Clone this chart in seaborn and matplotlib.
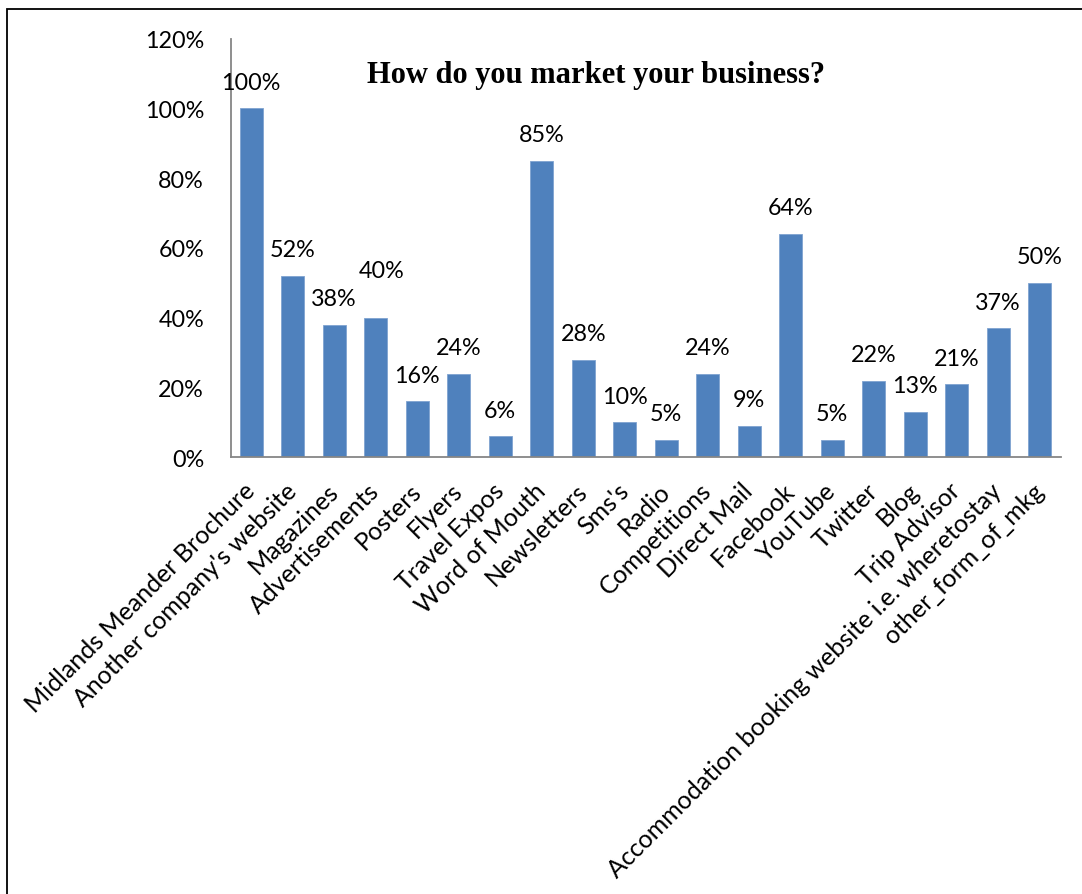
import matplotlib
matplotlib.use("Agg")
import matplotlib.pyplot as plt
from matplotlib.patches import Rectangle
import seaborn as sns
import pandas as pd

# Survey results: share of businesses using each marketing channel (%)
categories = [
    "Midlands Meander Brochure",
    "Another company's website",
    "Magazines",
    "Advertisements",
    "Posters",
    "Flyers",
    "Travel Expos",
    "Word of Mouth",
    "Newsletters",
    "Sms's",
    "Radio",
    "Competitions",
    "Direct Mail",
    "Facebook",
    "YouTube",
    "Twitter",
    "Blog",
    "Trip Advisor",
    "Accommodation booking website i.e. wheretostay",
    "other_form_of_mkg",
]
shares = [100, 52, 38, 40, 16, 24, 6, 85, 28, 10, 5, 24, 9, 64, 5, 22, 13, 21, 37, 50]
y_ticks = [0, 20, 40, 60, 80, 100, 120]
title = "How do you market your business?"

sns.set_theme(style="white")
plt.rcParams["font.family"] = ["Lato", "DejaVu Sans"]

W, H, DPI = 1082, 895, 100
NUM_FS = 16.8
CAT_FS = 18
fig = plt.figure(figsize=(W / DPI, H / DPI), dpi=DPI)
fig.patch.set_facecolor("white")

# plot area in pixel terms
left, bottom, width, height = 230.5, 458.3, 830, 418.8
ax = fig.add_axes([left / W, (H - bottom) / H, width / W, height / H])

df = pd.DataFrame({"category": categories, "share": shares})
sns.barplot(data=df, x="category", y="share", color="#4F81BD",
            saturation=1, width=0.566, ax=ax, edgecolor="#7FA3D0", linewidth=0.6)

ax.set_xlim(-0.5, len(categories) - 0.5)
ax.set_ylim(0, 120)
ax.set_yticks(y_ticks)
ax.set_yticklabels([f"{t}%" for t in y_ticks], fontsize=NUM_FS, color="black")
ax.set_xticks(range(len(categories)))
ax.set_xticklabels(categories, rotation=45, ha="right", va="center",
                   rotation_mode="anchor", fontsize=CAT_FS, color="black")
ax.set_xlabel("")
ax.set_ylabel("")
ax.tick_params(axis="y", length=0, pad=19)
ax.tick_params(axis="x", length=0, pad=21)

for side in ("top", "right"):
    ax.spines[side].set_visible(False)
for side in ("left", "bottom"):
    ax.spines[side].set_color("#868686")
    ax.spines[side].set_linewidth(1.3)

# value labels above each bar
px = 72 / DPI
for i, v in enumerate(shares):
    dx, dy = (6, 47) if categories[i] == "Advertisements" else (0, 26)
    ax.annotate(f"{v}%", (i, v), xytext=(dx * px, dy * px), textcoords="offset points",
                ha="center", va="center", fontsize=NUM_FS, color="black")

fig.text(596.5 / W, (H - 83) / H, title, ha="center", va="baseline",
         fontsize=22, fontweight="bold", family="Liberation Serif", color="black")

# outer frame
fig.add_artist(Rectangle((7 / W, -0.05), 1.2, (H - 10) / H + 0.05,
                         transform=fig.transFigure, fill=False,
                         edgecolor="black", linewidth=1.3))

fig.savefig("out.png", dpi=DPI, facecolor="white")
